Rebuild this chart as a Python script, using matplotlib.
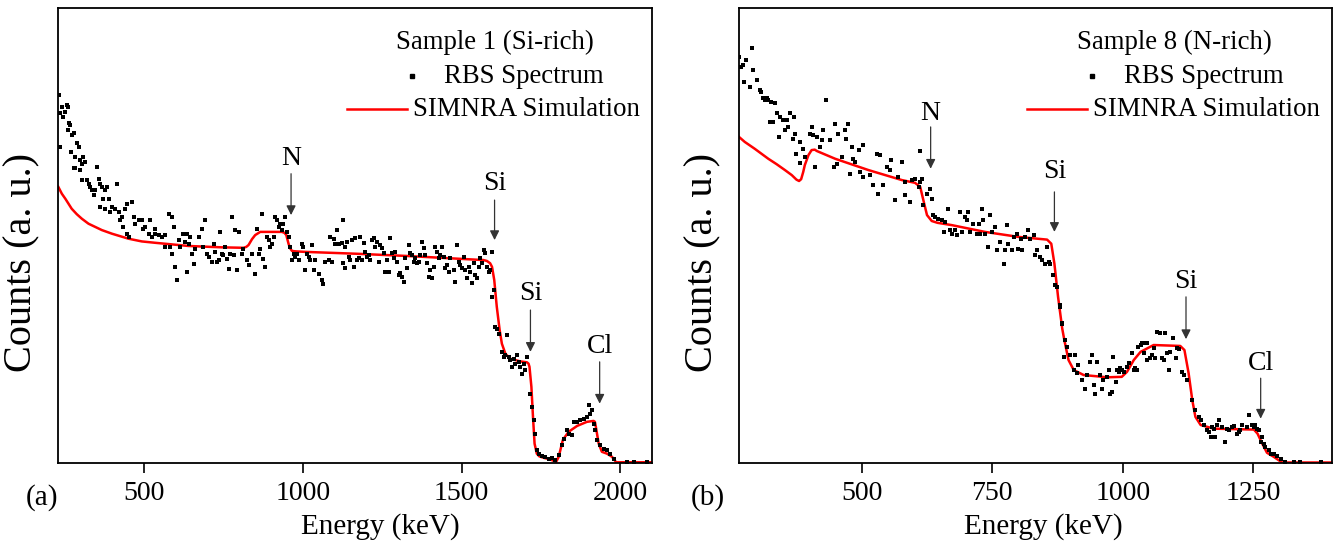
import matplotlib
matplotlib.use("Agg")
import matplotlib.pyplot as plt

plt.rcParams['font.family'] = ['Liberation Serif', 'DejaVu Serif']

# ---- panel (a): Sample 1 (Si-rich) ----
a_rbs_e = [233, 236, 241, 246, 252, 257, 262, 264, 260, 267,
           236, 272, 278, 270, 283, 288, 294, 278, 283, 299,
           304, 309, 314, 299, 304, 320, 325, 330, 336, 341,
           346, 351, 357, 362, 367, 378, 383, 372, 362, 378,
           388, 393, 399, 409, 414, 420, 430, 441, 446, 462,
           425, 435, 446, 451, 467, 472, 483, 493, 498, 504,
           514, 525, 535, 519, 535, 546, 556, 567, 577, 588,
           582, 593, 567, 588, 603, 598, 609, 614, 624, 630,
           635, 640, 645, 651, 656, 635, 661, 672, 682, 693,
           687, 698, 703, 714, 719, 724, 729, 735, 740, 745,
           750, 756, 761, 766, 771, 777, 782, 787, 792, 798,
           808, 813, 824, 829, 840, 850, 855, 861, 866, 871,
           876, 882, 887, 892, 897, 903, 908, 913, 918, 924,
           929, 934, 939, 945, 950, 955, 960, 966, 971, 976,
           981, 987, 997, 1002, 1008, 1013, 1018, 1023, 1029, 1034,
           1039, 1050, 1060, 1065, 1071, 1081, 1086, 1092, 1097, 1102,
           1107, 1113,
           1128, 1123, 1134, 1139, 1128, 1134, 1144, 1150, 1155, 1160,
           1165, 1170, 1176, 1181, 1186, 1192, 1197, 1202, 1207, 1213,
           1218, 1223, 1228, 1234, 1239, 1244, 1249, 1255, 1260, 1265,
           1270, 1276, 1281, 1286, 1291, 1297, 1302, 1307, 1312, 1318,
           1323, 1328, 1333, 1339, 1344, 1349, 1354, 1360, 1365, 1370,
           1375, 1381, 1386, 1391, 1396, 1402, 1407, 1412, 1417, 1423,
           1428, 1433, 1438, 1444, 1449, 1454, 1459, 1465, 1475, 1480,
           1486, 1491, 1496, 1501, 1507, 1512, 1517, 1522, 1528, 1533,
           1538, 1543, 1549, 1554, 1559, 1564, 1570, 1575, 1580, 1585,
           1596, 1591, 1596, 1601, 1606, 1612, 1617, 1627, 1633, 1638,
           1643, 1648, 1654, 1659, 1664, 1669, 1675, 1680, 1685, 1690,
           1696, 1701, 1706, 1717, 1722, 1727, 1732, 1738, 1743, 1753,
           1764, 1774, 1785, 1795, 1806, 1816, 1822, 1832, 1837, 1848,
           1853, 1864, 1874, 1885, 1895, 1900, 1906, 1911, 1916, 1921,
           1927, 1937, 1948, 1958, 1969, 1979, 2021, 2042, 2084]
a_rbs_c = [80.9, 76.9, 78.3, 76.1, 77.2, 78.7, 78.3, 74.7, 73.2, 74.3,
           69.5, 72.1, 72.5, 68.4, 67.3, 70.3, 69.5, 64.8, 64.8, 66.6,
           65.8, 67.3, 66.2, 64.4, 62.2, 62.2, 61.4, 60.7, 60.0, 58.9,
           60.0, 65.1, 62.5, 61.4, 60.7, 60.0, 60.7, 58.1, 56.3, 55.9,
           58.1, 55.2, 56.3, 55.9, 61.4, 55.2, 54.1, 55.9, 57.0, 57.4,
           53.4, 51.9, 50.4, 49.7, 54.1, 52.6, 53.4, 53.4, 51.5, 51.9,
           50.4, 49.7, 50.4, 53.4, 51.5, 50.1, 49.7, 50.1, 54.8, 54.1,
           47.5, 51.9, 47.5, 46.0, 40.2, 43.1, 49.0, 47.5, 50.4, 48.6,
           50.4, 48.2, 49.7, 46.0, 43.8, 42.0, 47.1, 49.7, 51.5, 53.4,
           47.5, 46.0, 45.3, 44.2, 48.2, 46.4, 44.2, 44.6, 50.8, 46.0,
           45.7, 47.5, 44.9, 42.7, 46.0, 54.1, 45.7, 51.2, 42.4, 50.8,
           46.0, 47.1, 44.6, 43.5, 46.0, 41.6, 51.5, 46.0, 47.1, 54.8,
           44.9, 43.1, 49.7, 49.0, 47.5, 48.2, 49.7, 54.1, 53.4, 51.9,
           52.6, 51.2, 52.6, 54.1, 50.8, 49.7, 47.5, 44.6, 46.0, 45.3,
           46.0, 44.6, 48.2, 47.5, 42.4, 46.0, 45.3, 44.6, 47.9, 42.4,
           44.6, 41.6, 40.2, 39.4, 44.2, 44.6, 49.7, 44.2, 49.3, 48.2,
           51.2, 48.2,
           53.4, 48.3, 47.5, 48.6, 43.9, 42.8, 45.3, 44.6, 49.0, 43.1,
           49.4, 44.6, 45.0, 49.7, 44.6, 48.3, 46.4, 45.3, 45.7, 44.6,
           49.0, 49.4, 47.5, 48.6, 44.2, 47.9, 47.2, 46.1, 42.0, 44.6,
           42.0, 49.4, 46.1, 45.0, 46.4, 44.2, 41.3, 41.7, 40.9, 39.8,
           45.0, 42.8, 47.9, 46.1, 45.7, 44.2, 45.0, 43.9, 44.2, 45.7,
           48.6, 47.2, 45.7, 43.9, 40.9, 42.4, 40.6, 43.1, 47.5, 46.4,
           45.0, 45.7, 47.5, 45.3, 42.8, 43.5, 42.0, 45.0, 42.4, 39.8,
           47.9, 44.2, 43.5, 42.8, 45.3, 42.4, 40.6, 43.1, 42.0, 39.5,
           43.9, 41.3, 40.6, 43.1, 45.0, 43.9, 46.8, 46.1, 43.1, 42.0,
           46.4, 42.4, 36.5, 38.0, 29.9, 29.5, 28.4, 24.4, 23.3, 23.7,
           28.1, 23.3, 22.6, 21.1, 22.9, 21.8, 23.7, 22.2, 21.1, 19.6,
           21.8, 20.4, 23.3, 15.2, 12.3, 9.4, 6.4, 2.8, 2.0, 1.4,
           1.3, 0.9, 1.1, 0.5, 1.7, 3.9, 5.3, 7.2, 6.4, 6.1,
           9.0, 9.0, 9.4, 9.7, 10.1, 12.7, 10.8, 11.6, 8.6, 7.2,
           5.0, 3.9, 3.1, 2.8, 2.0, 0.9, 0.2, 0.2, 0.2]

a_sim_e = [230, 241, 252, 262, 272, 288, 304, 325, 346, 367,
           399, 451, 493, 535, 640, 745, 813, 822, 829, 840,
           850, 866, 934, 942, 948, 955, 960, 966, 980, 1008,
           1165, 1328, 1569, 1580, 1590, 1596, 1603, 1611, 1620, 1627,
           1638, 1653, 1685, 1706, 1711, 1714, 1720, 1725, 1730, 1737,
           1745, 1758, 1780, 1798, 1806, 1812, 1819, 1837, 1864, 1895,
           1916, 1920, 1923, 1932, 1942, 1958, 1974, 1987, 2100]
a_sim_c = [60.7, 59.2, 58.1, 57.0, 55.9, 54.7, 53.7, 52.6, 51.9, 51.2,
           50.4, 49.3, 48.7, 48.4, 47.7, 47.4, 47.3, 47.5, 47.9, 49.2,
           50.1, 50.8, 50.8, 50.6, 50.1, 48.2, 47.2, 46.6, 46.5, 46.4,
           46.0, 45.5, 44.6, 44.4, 43.9, 43.1, 40.2, 34.3, 29.2, 26.2,
           24.0, 22.9, 22.3, 22.1, 21.8, 21.1, 16.7, 10.1, 4.2, 2.0,
           1.4, 1.1, 0.7, 0.2, 1.3, 3.0, 5.0, 6.8, 8.1, 9.0,
           9.2, 9.0, 7.9, 4.2, 2.4, 2.0, 1.3, 0.1, 0.1]

# element edges: label, energy, arrow tail, arrow tip, label height
a_marks = [("N", 963, 63.6, 54.5, 67.0),
           ("Si", 1604, 57.8, 49.0, 61.5),
           ("Si", 1717, 33.6, 24.4, 37.2),
           ("Cl", 1935, 22.2, 13.0, 25.5)]

# ---- panel (b): Sample 8 (N-rich) ----
b_rbs_e = [265, 269, 273, 279, 289, 275, 286, 292, 299, 305,
           308, 311, 315, 318, 321, 326, 334, 324, 331, 337,
           343, 350, 356, 363, 371, 353, 359, 341, 369, 372,
           382, 375, 388, 404, 414, 407, 426, 431, 420, 391,
           382, 401, 410, 423, 439, 448, 455, 468, 473, 469,
           446, 452, 462, 481, 484, 494, 503, 478, 487, 497,
           503, 516, 522, 529, 535, 532, 541, 548, 554, 557,
           564, 570, 577, 583, 583, 593, 596, 602, 609, 612,
           612, 615, 618, 625, 631, 634, 637, 641, 647, 653,
           657, 660, 666, 669, 672, 679, 682, 688, 692, 698,
           701, 704, 708, 714, 720, 724, 727, 730, 733, 736,
           741, 746, 749, 756, 759, 765, 772, 775, 778, 781,
           787, 791, 797, 800, 805, 807, 813, 819, 823, 829,
           832, 835, 842, 845, 851, 855, 858, 861, 867, 871,
           874, 880, 883,
           880, 883, 890, 893, 887, 899, 909, 915, 906, 912,
           922, 928, 931, 938, 941, 944, 950, 947, 957, 960,
           963, 970, 973, 976, 979, 982, 986, 989, 992, 995,
           998, 1002, 1008, 1011, 1018, 1021, 1024, 1027, 1030, 1034,
           1037, 1043, 1046, 1040, 1046, 1053, 1056, 1059, 1062, 1065,
           1072, 1075, 1078, 1081, 1085, 1088, 1091, 1097, 1101, 1104,
           1107, 1113, 1117, 1123, 1133, 1139, 1145, 1149, 1155, 1161,
           1165, 1168, 1171, 1174, 1177, 1181, 1184, 1190, 1196, 1200,
           1203, 1209, 1212, 1219, 1222, 1225, 1228, 1238, 1241, 1248,
           1251, 1254, 1257, 1260, 1264, 1267, 1270, 1273, 1280, 1283,
           1289, 1295, 1302, 1311, 1327, 1340, 1379]
b_rbs_c = [89.3, 87.1, 87.5, 88.6, 91.2, 83.8, 82.7, 86.4, 84.2, 82.0,
           81.6, 80.2, 79.8, 80.2, 79.8, 79.4, 79.1, 75.0, 75.0, 76.9,
           76.1, 75.4, 75.5, 76.9, 76.0, 73.2, 73.9, 71.6, 71.3, 72.3,
           70.6, 68.0, 69.1, 73.9, 71.7, 72.1, 73.2, 79.8, 69.5, 67.3,
           66.0, 72.4, 65.1, 71.0, 71.0, 74.6, 72.4, 73.2, 74.6, 71.3,
           65.1, 65.8, 67.3, 69.5, 66.9, 68.8, 69.9, 63.5, 66.2, 64.0,
           62.9, 63.3, 61.1, 68.0, 67.7, 59.2, 61.1, 65.1, 64.4, 66.6,
           57.8, 62.9, 66.2, 58.9, 61.8, 57.4, 62.2, 62.5, 60.7, 68.6,
           61.8, 62.5, 56.7, 59.2, 60.3, 58.1, 54.5, 54.1, 53.7, 53.4,
           50.8, 53.0, 55.9, 51.2, 50.4, 51.2, 50.1, 55.2, 50.8, 54.1,
           53.4, 55.2, 50.8, 52.6, 50.4, 52.6, 50.4, 55.9, 53.4, 50.4,
           47.5, 54.5, 50.8, 51.9, 46.8, 48.6, 43.8, 46.8, 52.3, 48.2,
           46.8, 49.7, 50.4, 47.1, 49.3, 46.8, 49.7, 51.2, 49.3, 50.1,
           45.7, 46.8, 45.3, 44.6, 43.8, 47.5, 44.2, 43.8, 41.3, 39.1,
           38.7, 34.3, 30.6,
           34.7, 30.7, 27.0, 25.5, 23.3, 23.7, 23.7, 21.5, 20.4, 19.7,
           18.2, 16.3, 19.3, 22.2, 23.7, 17.1, 22.2, 15.2, 19.3, 16.3,
           18.2, 18.9, 20.4, 15.2, 15.6, 23.2, 17.8, 20.4, 20.0, 20.8,
           20.4, 20.0, 21.1, 21.9, 24.2, 20.4, 20.8, 20.4, 25.5, 25.9,
           26.3, 26.3, 26.3, 24.1, 22.6, 23.0, 23.7, 25.2, 23.0, 28.8,
           28.5, 23.0, 22.6, 28.5, 24.1, 20.4, 24.4, 27.4, 23.0, 25.2,
           25.0, 20.0, 19.3, 18.2, 13.8, 11.6, 10.1, 9.4, 8.3, 7.2,
           6.8, 5.7, 7.9, 7.5, 5.7, 8.3, 9.4, 7.9, 4.6, 7.5,
           7.2, 7.9, 8.1, 6.4, 6.8, 7.2, 8.3, 7.9, 10.5, 8.3,
           7.9, 8.3, 7.5, 7.2, 4.6, 5.7, 4.2, 3.5, 2.8, 2.0,
           2.0, 1.4, 0.9, 0.2, 0.2, 0.2, 0.2]

b_sim_e = [265, 276, 295, 308, 321, 337, 353, 366, 375, 380,
           384, 388, 391, 398, 404, 410, 414, 449, 513, 577,
           602, 612, 618, 625, 634, 645, 672, 736, 800, 855,
           863, 869, 876, 880, 884, 888, 896, 906, 925, 970,
           998, 1008, 1021, 1034, 1059, 1110, 1118, 1126, 1133, 1139,
           1149, 1174, 1251, 1258, 1267, 1276, 1289, 1305, 1400]
b_sim_c = [71.7, 70.6, 69.1, 68.0, 66.9, 65.7, 64.4, 63.3, 62.3, 62.0,
           62.4, 64.0, 65.5, 67.7, 68.8, 68.9, 68.6, 66.9, 64.4, 62.2,
           61.6, 60.7, 57.8, 54.5, 53.2, 52.8, 52.3, 50.8, 49.7, 49.1,
           48.2, 43.8, 36.5, 33.0, 29.5, 27.0, 22.6, 20.4, 19.3, 18.8,
           18.9, 20.0, 22.6, 24.4, 25.9, 25.7, 24.8, 19.7, 13.8, 10.1,
           8.3, 7.5, 7.3, 6.4, 4.2, 2.2, 1.3, 0.05, 0.05]

b_marks = [("N", 632, 73.9, 64.7, 76.9),
           ("Si", 869, 59.6, 50.8, 64.0),
           ("Si", 1121, 36.5, 27.2, 39.8),
           ("Cl", 1264, 18.6, 9.7, 21.8)]


def draw_panel(ax, rbs_e, rbs_c, sim_e, sim_c, marks, xlim, ticks, title, xlab_x):
    ax.plot(sim_e, sim_c, color='red', lw=1.8, zorder=2)
    ax.scatter(rbs_e, rbs_c, marker='s', s=6, color='black', linewidths=0, zorder=3)
    for lab, e, tail, tip, ty in marks:
        ax.annotate('', xy=(e, tip), xytext=(e, tail),
                    arrowprops=dict(arrowstyle='-|>', color='#333333', lw=0.9,
                                    mutation_scale=14, shrinkA=0, shrinkB=0))
        ax.text(e, ty, lab, ha='center', va='center', fontsize=20)

    ax.set_xlim(*xlim)
    ax.set_ylim(0, 100)
    ax.set_xticks(ticks)
    ax.set_yticks([])
    ax.tick_params(axis='x', direction='out', length=7, width=1.2, labelsize=20, pad=6)
    for s in ax.spines.values():
        s.set_linewidth(1.3)

    ax.set_xlabel('Energy (keV)', fontsize=21, va='center')
    ax.xaxis.set_label_coords(xlab_x, -0.141)
    ax.set_ylabel('Counts (a. u.)', fontsize=29, va='center')
    ax.yaxis.set_label_coords(-0.061, 0.44)

    # legend drawn by hand to keep the original offsets
    ax.text(0.735, 0.924, title, transform=ax.transAxes, ha='center', va='center', fontsize=19.3)
    ax.plot([0.596], [0.851], 's', ms=2.8, color='black', transform=ax.transAxes)
    ax.text(0.649, 0.851, 'RBS Spectrum', transform=ax.transAxes, ha='left', va='center', fontsize=19.3)
    ax.plot([0.486, 0.587], [0.778, 0.778], color='red', lw=1.8, transform=ax.transAxes)
    ax.text(0.597, 0.778, 'SIMNRA Simulation', transform=ax.transAxes, ha='left', va='center', fontsize=19.3)


fig = plt.figure(figsize=(13.4, 5.44), dpi=100)
ax1 = fig.add_axes([0.0433, 0.1494, 0.4433, 0.8353])
ax2 = fig.add_axes([0.5515, 0.1494, 0.4423, 0.8353])

draw_panel(ax1, a_rbs_e, a_rbs_c, a_sim_e, a_sim_c, a_marks,
           (229, 2100), [500, 1000, 1500, 2000], 'Sample 1 (Si-rich)', 0.542)
draw_panel(ax2, b_rbs_e, b_rbs_c, b_sim_e, b_sim_c, b_marks,
           (265, 1400), [500, 750, 1000, 1250], 'Sample 8 (N-rich)', 0.513)

fig.text(0.031, 0.086, '(a)', ha='center', va='center', fontsize=21)
fig.text(0.528, 0.086, '(b)', ha='center', va='center', fontsize=21)

fig.savefig('out.png', dpi=100)
